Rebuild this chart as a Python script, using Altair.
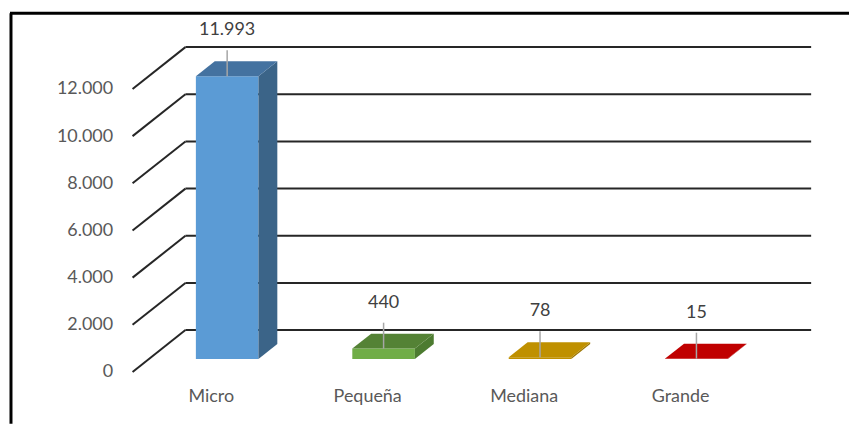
import altair as alt
import pandas as pd

# ---- data ----
categories = ["Micro", "Pequeña", "Mediana", "Grande"]
values = [11993, 440, 78, 15]
y_ticks = [0, 2000, 4000, 6000, 8000, 10000, 12000]

# ---- styles ----
front_colors = ["#5B9BD5", "#70AD47", "#BF9000", "#C00000"]
top_colors = ["#4472A0", "#548235", "#BF9000", "#C00000"]
side_colors = ["#3B6488", "#4C7B30", "#9E7700", "#9E0000"]
FONT = "Lato"
TXT = "#595959"

# ---- 3-D projection geometry (in data units) ----
XD = 0.338      # horizontal shift of full depth, in category units
YD = 1775       # vertical shift of full depth, in value units
Z0, Z1 = 0.31, 0.667   # depth of bar front / back face
HALF = 0.2      # half bar width
X_MIN, X_MAX = -0.5, len(categories) - 0.5

front_rows, side_rows, top_rows, label_rows = [], [], [], []
for i, (c, v) in enumerate(zip(categories, values)):
    front_rows.append(dict(cat=c, x=i - HALF + Z0 * XD, x2=i + HALF + Z0 * XD,
                           y=Z0 * YD, y2=v + Z0 * YD, col=front_colors[i]))
    for z in (Z0, Z1):
        side_rows.append(dict(cat=c, x=i + HALF + z * XD, ylo=z * YD, yhi=v + z * YD,
                              col=side_colors[i]))
        top_rows.append(dict(cat=c, y=v + z * YD, xl=i - HALF + z * XD, xr=i + HALF + z * XD,
                             col=top_colors[i]))
    label_rows.append(dict(cat=c, v=v, x=i + Z0 * XD, y=v + Z0 * YD))

front = pd.DataFrame(front_rows)
side = pd.DataFrame(side_rows)
top = pd.DataFrame(top_rows)
labels = pd.DataFrame(label_rows)
grid = pd.DataFrame({
    "v": y_ticks,
    "yb": [t + YD for t in y_ticks],
    "xa": [X_MIN] * len(y_ticks),
    "xb": [X_MIN + XD] * len(y_ticks),
    "xc": [X_MAX + XD] * len(y_ticks),
})

xs = alt.Scale(domain=[X_MIN, X_MAX + XD], nice=False, zero=False)
ys = alt.Scale(domain=[0, y_ticks[-1] + YD], nice=False, zero=False)

label_expr = "[" + ",".join("'%s'" % c for c in categories) + "][datum.value]"
x_axis = alt.Axis(values=list(range(len(categories))), labelExpr=label_expr, title=None,
                  grid=False, domain=False, ticks=False, labelPadding=16,
                  labelFont=FONT, labelFontSize=18, labelColor=TXT, labelBaseline="top")
y_axis = alt.Axis(values=y_ticks, format=",d", title=None, grid=False, domain=False,
                  ticks=False, labelPadding=20, labelFont=FONT, labelFontSize=18,
                  labelColor=TXT)


def X(f):
    return alt.X(f + ":Q", scale=xs, axis=x_axis)


def Y(f):
    return alt.Y(f + ":Q", scale=ys, axis=y_axis)


GRID_COL = "#262626"
back_lines = alt.Chart(grid).mark_rule(color=GRID_COL, strokeWidth=2).encode(
    x=X("xb"), x2="xc:Q", y=Y("yb"))
slant_lines = alt.Chart(grid).mark_rule(color=GRID_COL, strokeWidth=2).encode(
    x=X("xa"), x2="xb:Q", y=Y("v"), y2="yb:Q")

front_face = alt.Chart(front).mark_rect().encode(
    x=X("x"), x2="x2:Q", y=Y("y"), y2="y2:Q", color=alt.Color("col:N", scale=None))
side_face = alt.Chart(side).mark_area(interpolate="linear").encode(
    x=X("x"), y=Y("yhi"), y2="ylo:Q", detail="cat:N", color=alt.Color("col:N", scale=None))
top_face = alt.Chart(top).mark_area(orient="horizontal", interpolate="linear").encode(
    y=Y("y"), x=X("xl"), x2="xr:Q", detail="cat:N", color=alt.Color("col:N", scale=None))

leaders = alt.Chart(labels).mark_rule(color="#A6A6A6", strokeWidth=1.5, y2Offset=-26).encode(
    x=X("x"), y=Y("y"), y2="y:Q")
value_text = alt.Chart(labels).mark_text(dy=-46, font=FONT, fontSize=18, color="#404040",
                                         baseline="middle").encode(
    x=X("x"), y=Y("y"), text=alt.Text("v:Q", format=",d"))

one = pd.DataFrame({"a": [0]})
frame_left = alt.Chart(one).mark_rule(color="black", strokeWidth=3).encode(
    x=alt.value(-122), y=alt.value(-34), y2=alt.value(378))
frame_top = alt.Chart(one).mark_rule(color="black", strokeWidth=3).encode(
    x=alt.value(-123), x2=alt.value(719), y=alt.value(-34))

chart = alt.layer(
    frame_left, frame_top, back_lines, slant_lines,
    front_face, side_face, top_face, leaders, value_text,
).properties(
    width=681, height=326,
    padding={"left": 0, "top": 2.5, "right": 0, "bottom": 0},
).configure(
    background="white",
    locale={"number": {"decimal": ",", "thousands": ".", "grouping": [3],
                       "currency": ["", " €"]}},
).configure_view(stroke=None)

chart.save("out.html", embed_options={"renderer": "svg", "actions": False})
